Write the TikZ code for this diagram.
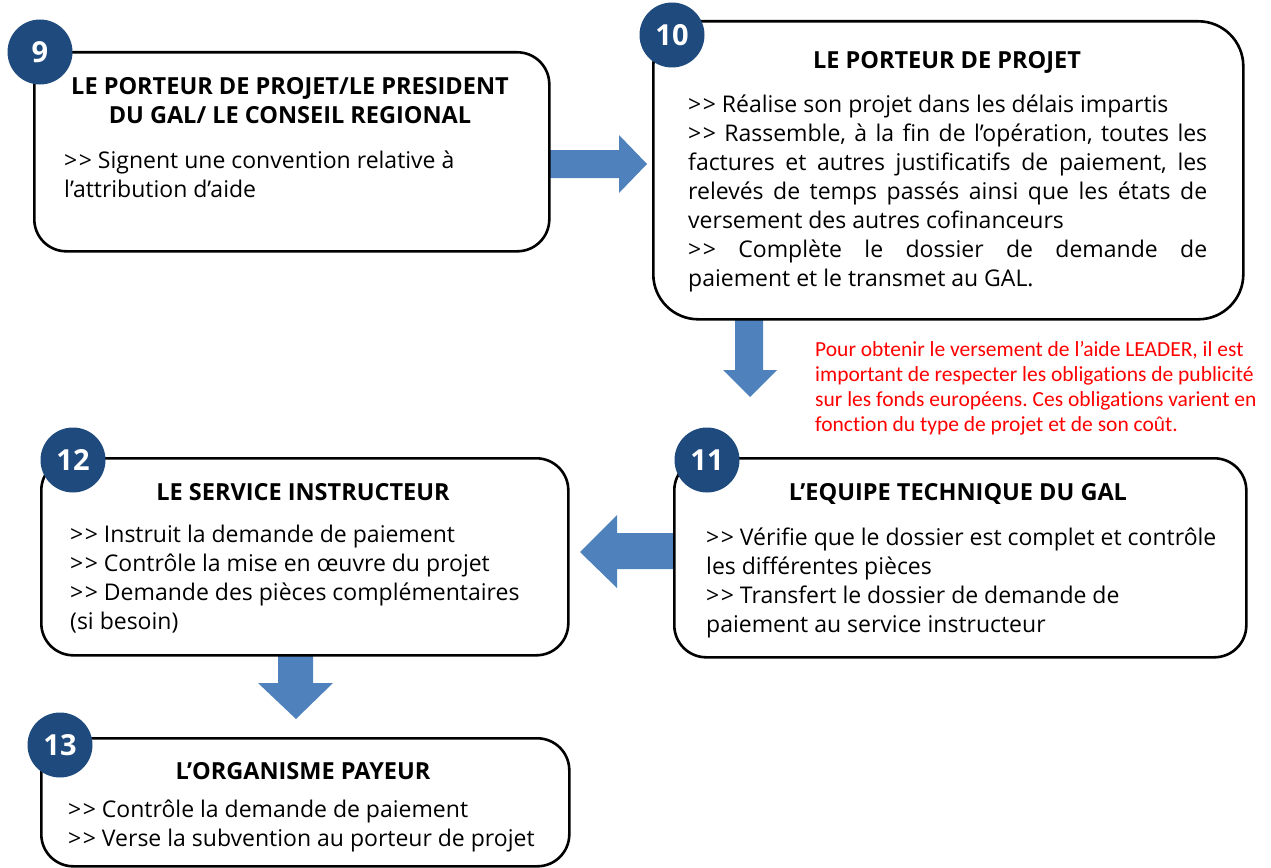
\documentclass[tikz,border=0pt]{standalone}
\usepackage{fontspec}
\setmainfont{Open Sans}
\newfontfamily\redfont[Ligatures={NoCommon}]{Carlito}
\definecolor{numblue}{HTML}{1F4A7E}
\definecolor{arrowblue}{HTML}{4F81BD}
\newcommand\dgt{>{}\kern1.5pt>}
\frenchspacing
\begin{document}
\begin{tikzpicture}[x=1pt,y=-1pt,
  box/.style={draw=black, line width=2.6pt, rounded corners=32pt, anchor=north west, inner sep=0},
  num/.style={circle, fill=numblue, minimum size=65pt, inner sep=0, text=white, font=\bfseries\fontsize{29}{29}\selectfont},
  ttl/.style={inner sep=0, anchor=north, font=\bfseries\fontsize{23.5}{29}\selectfont, align=center},
  body/.style={inner sep=0, anchor=north west, font=\fontsize{23}{29}\selectfont\setlength\parindent{0pt}\frenchspacing, align=left},
  blockarrow/.style={fill=arrowblue},
  note/.style={inner sep=0, anchor=north west, text=red, font=\redfont\fontsize{21.5}{25}\selectfont\frenchspacing, align=left}
]
\useasboundingbox (0,0) rectangle (1271,867);
% block arrows
\fill[blockarrow] (550,150)--(619,150)--(619,135)--(647,164)--(619,193)--(619,178)--(550,178)--cycle;
\fill[blockarrow] (735,318)--(763,318)--(763,370)--(777,370)--(750,397)--(723,370)--(735,370)--cycle;
\fill[blockarrow] (580,552)--(617,515)--(617,533)--(673,533)--(673,569)--(617,569)--(617,588)--cycle;
\fill[blockarrow] (278,655)--(313,655)--(313,683)--(333,683)--(296,719)--(258,683)--(278,683)--cycle;
% boxes
\node[box, minimum width=515, minimum height=199] (b9) at (33,51) {};
\node[box, minimum width=590, minimum height=298, rounded corners=45pt] (b10) at (652,20) {};
\node[box, minimum width=572, minimum height=199] (b11) at (673,457) {};
\node[box, minimum width=527, minimum height=197] (b12) at (40,457) {};
\node[box, minimum width=528, minimum height=128] (b13) at (40,737) {};
% numbers
\node[num] (n9) at (40,52) {9};
\node[num] (n10) at (672,35) {10};
\node[num] (n11) at (707,460) {11};
\node[num] (n12) at (73,460) {12};
\node[num] (n13) at (60,745) {13};
% titles
\node[ttl] (t9) at (290,77) {LE PORTEUR DE PROJET/LE PRESIDENT\\DU GAL/ LE CONSEIL REGIONAL};
\node[ttl] (t10) at (947,51) {LE PORTEUR DE PROJET};
\node[ttl] (t11) at (958,483) {L’EQUIPE TECHNIQUE DU GAL};
\node[ttl] (t12) at (303,483) {LE SERVICE INSTRUCTEUR};
\node[ttl] (t13) at (303,762) {L’ORGANISME PAYEUR};
% bodies
\node[body] (d9) at (64,151) {\dgt{} Signent une convention relative à\\l’attribution d’aide};
\node[body, text width=519, align=justify] (d10) at (688,95) {\dgt{} Réalise son projet dans les délais impartis\par
\dgt{} Rassemble, à la fin de l’opération, toutes les\linebreak factures et autres justificatifs de paiement, les\linebreak relevés de temps passés ainsi que les états de\linebreak versement des autres cofinanceurs\par
\dgt{} Complète le dossier de demande de\linebreak paiement et le transmet au GAL.};
\node[body] (d11) at (706,528) {\dgt{} Vérifie que le dossier est complet et contrôle\\les différentes pièces\\\dgt{} Transfert le dossier de demande de\\paiement au service instructeur};
\node[body] (d12) at (70,525) {\dgt{} Instruit la demande de paiement\\\dgt{} Contrôle la mise en œuvre du projet\\\dgt{} Demande des pièces complémentaires\\(si besoin)};
\node[body] (d13) at (68,800) {\dgt{} Contrôle la demande de paiement\\\dgt{} Verse la subvention au porteur de projet};
% note
\node[note] (nt) at (815,341) {Pour obtenir le versement de l’aide LEADER, il est\\important de respecter les obligations de publicité\\sur les fonds européens. Ces obligations varient en\\fonction du type de projet et de son coût.};
\end{tikzpicture}
\end{document}
